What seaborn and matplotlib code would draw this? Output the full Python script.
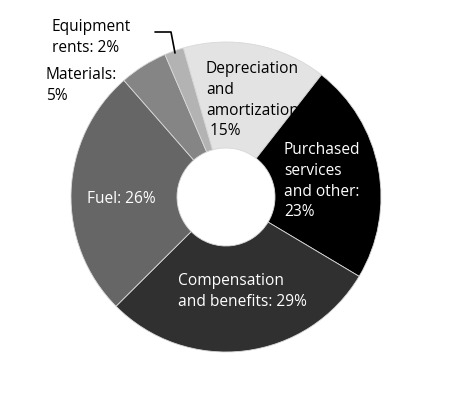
import matplotlib
matplotlib.use("Agg")
import matplotlib.pyplot as plt
import seaborn as sns

sns.set_style("white")
plt.rcParams['font.family'] = ['Open Sans', 'DejaVu Sans']

categories = ["Depreciation and amortization", "Purchased services and other",
              "Compensation and benefits", "Fuel", "Materials", "Equipment rents"]
values = [15, 23, 29, 26, 5, 2]
colors = ["#e3e3e3", "#000000", "#303030", "#666666", "#858585", "#b3b3b3"]
labels = ["Depreciation\nand\namortization:\n 15%",
          "Purchased\nservices\nand other:\n23%",
          "Compensation\nand benefits: 29%",
          "Fuel: 26%",
          "Materials:\n5%",
          "Equipment\nrents: 2%"]
label_colors = ["black", "white", "white", "white", "black", "black"]

W, H = 452, 400
fig = plt.figure(figsize=(W / 100, H / 100), dpi=100)
ax = fig.add_axes([0, 0, 1, 1])
ax.axis("off")

cx, cy, R = 226, 197, 155
wedges, _ = ax.pie(values, colors=colors, startangle=106, counterclock=False,
                   center=(cx, H - cy), radius=R,
                   wedgeprops=dict(width=R - 49, edgecolor="#d8d8d8", linewidth=0.6))
ax.set_xlim(0, W)
ax.set_ylim(0, H)
ax.set_aspect("equal")

# label positions (pixel coordinates: left, top)
pos = [(206, 61), (284, 142), (178, 273), (87, 191), (46, 67), (52, 19)]
for lab, (x, y), c in zip(labels, pos, label_colors):
    ax.text(x, H - y, lab, color=c, fontsize=11.2, ha="left", va="top",
            linespacing=1.4)

# leader line for equipment rents
ax.plot([155, 171, 175], [H - 32, H - 32, H - 53], color="black", lw=1.2)

fig.savefig("out.png", dpi=100)
